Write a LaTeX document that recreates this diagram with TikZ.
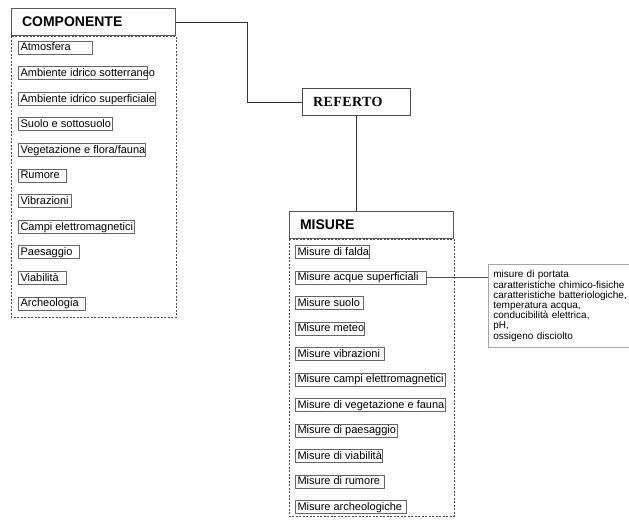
\documentclass[tikz,border=0pt]{standalone}
\usepackage{fontspec}
\setmainfont{Liberation Sans}
\newfontfamily\refertofont[LetterSpace=3]{Liberation Serif}
\usetikzlibrary{positioning,calc}

\begin{document}
\begin{tikzpicture}[x=1pt, y=-1pt, font=\fontsize{11}{13}\selectfont,
  hdr/.style={draw=black!65, line width=1pt, anchor=north west, minimum height=27pt, text width=#1, align=left, inner xsep=10.5pt, font=\fontsize{14}{16}\selectfont\bfseries},
  itm/.style={draw=black!60, line width=1.1pt, anchor=north west, text height=7.8pt, text depth=1.2pt, inner xsep=2pt, inner ysep=2pt, execute at begin node={\hbox to #1\bgroup}, execute at end node={\hss\egroup}},
  cont/.style={draw=black!70, line width=0.9pt, dash pattern=on 2pt off 1.5pt},
  lnk/.style={draw=black!80, line width=1pt}]
\useasboundingbox (0,0) rectangle (629,522);
% componente
\node[hdr=143pt] (comp) at (11,8) {COMPONENTE};
\draw[cont] (comp.south west) rectangle ($(comp.south east)+(0,281)$);
\node[itm=70pt] (c1) at (18,40.5) {Atmosfera};
\node[itm=125pt, below=11.5pt of c1.south west, anchor=north west] (c2) {Ambiente idrico sotterraneo};
\node[itm=133pt, below=11.5pt of c2.south west, anchor=north west] (c3) {Ambiente idrico superficiale};
\node[itm=90pt, below=11.5pt of c3.south west, anchor=north west] (c4) {Suolo e sottosuolo};
\node[itm=123pt, below=11.5pt of c4.south west, anchor=north west] (c5) {Vegetazione e flora/fauna};
\node[itm=44pt, below=11.5pt of c5.south west, anchor=north west] (c6) {Rumore};
\node[itm=49pt, below=11.5pt of c6.south west, anchor=north west] (c7) {Vibrazioni};
\node[itm=112pt, below=11.5pt of c7.south west, anchor=north west] (c8) {Campi elettromagnetici};
\node[itm=57pt, below=11.5pt of c8.south west, anchor=north west] (c9) {Paesaggio};
\node[itm=44pt, below=11.5pt of c9.south west, anchor=north west] (c10) {Viabilità};
\node[itm=63pt, below=11.5pt of c10.south west, anchor=north west] (c11) {Archeologia};
% referto
\node[draw=black!70, line width=1pt, anchor=north west, minimum height=27pt, text width=87pt, inner xsep=10.5pt, align=left, font=\refertofont\fontsize{14}{16}\selectfont\bfseries] (refe) at (302,88) {REFERTO};
\draw[lnk] (comp.east) -- ++(71,0) |- (refe.west);
% misure
\node[hdr=143pt] (mis) at (289,211) {MISURE};
\draw[lnk] (refe.south) -- (refe.south |- mis.north);
\draw[cont] (mis.south west) rectangle ($(mis.south east)+(0,277)$);
\node[itm=70pt] (m1) at (295,245) {Misure di falda};
\node[itm=127pt, below=11.4pt of m1.south west, anchor=north west] (m2) {Misure acque superficiali};
\node[itm=64pt, below=11.4pt of m2.south west, anchor=north west] (m3) {Misure suolo};
\node[itm=65pt, below=11.4pt of m3.south west, anchor=north west] (m4) {Misure meteo};
\node[itm=85pt, below=11.4pt of m4.south west, anchor=north west] (m5) {Misure vibrazioni};
\node[itm=146pt, below=11.4pt of m5.south west, anchor=north west] (m6) {Misure campi elettromagnetici};
\node[itm=146pt, below=11.4pt of m6.south west, anchor=north west] (m7) {Misure di vegetazione e fauna};
\node[itm=98pt, below=11.4pt of m7.south west, anchor=north west] (m8) {Misure di paesaggio};
\node[itm=83pt, below=11.4pt of m8.south west, anchor=north west] (m9) {Misure di viabilità};
\node[itm=85pt, below=11.4pt of m9.south west, anchor=north west] (m10) {Misure di rumore};
\node[itm=107pt, below=11.4pt of m10.south west, anchor=north west] (m11) {Misure archeologiche};
% dettaglio acque
\node[draw=black!35, line width=0.8pt, anchor=north west, text width=135pt, inner xsep=5pt, inner ysep=4.5pt, minimum height=83pt, align=left, font=\fontsize{10}{10.2}\selectfont] (det) at (488,264) {misure di portata\\caratteristiche chimico-fisiche\\caratteristiche batteriologiche,\\temperatura acqua,\\conducibilità elettrica,\\pH,\\ossigeno disciolto};
\draw[lnk, draw=black!70] (m2.east) -- (m2.east -| det.west);
\end{tikzpicture}
\end{document}
